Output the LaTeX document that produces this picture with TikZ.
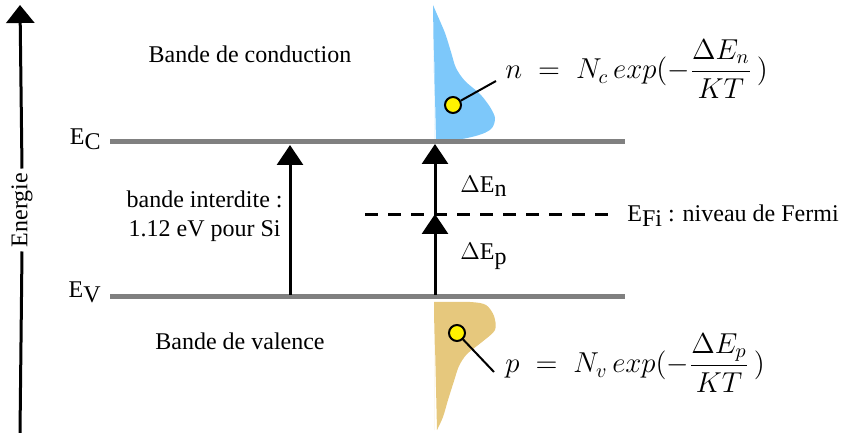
\documentclass[tikz,border=0pt]{standalone}
\usepackage{fontspec}
\setmainfont{Liberation Serif}
\usepackage{amsmath}
\usetikzlibrary{arrows.meta,positioning}
\definecolor{bandgray}{RGB}{128,128,128}
\definecolor{condblue}{RGB}{125,200,250}
\definecolor{valtan}{RGB}{230,200,125}
\newcommand{\Elev}[1]{E\raisebox{-0.45ex}{#1}}

\begin{document}
\begin{tikzpicture}[x=0.5pt,y=-0.5pt,
  band/.style={draw=bandgray,line width=2.5pt},
  fleche/.style={line width=1.5pt,-{Triangle[width=13pt,length=10pt]}},
  lbl/.style={font=\fontsize{12}{14}\selectfont,inner sep=1pt},
  formule/.style={font=\fontsize{14}{16}\selectfont,inner sep=1pt,anchor=west},
  point/.style={circle,draw=black,fill=yellow,line width=1pt,inner sep=0pt,minimum size=8pt}]
\useasboundingbox (0,0) rectangle (858,433);
% distributions
\fill[condblue] (435,142) -- (433,5) plot[smooth] coordinates {(433,5) (436,12) (445,33) (451,52) (456,68) (465,81) (480,94) (490,107) (495,118) (492,128) (482,134) (462,139) (436,141)} -- cycle;
\fill[valtan] (434,430) -- (434,302) plot[smooth] coordinates {(434,302) (470,302) (486,305) (494,316) (495,330) (482,342) (467,354) (459,366) (454,381) (448,400) (443,417) (437,430)} -- cycle;
% axe de l'energie
\draw (22,210) node[lbl,rotate=90,inner sep=2pt](energie){Energie};
\coordinate (axb) at (20,433);
\coordinate (axt) at (20,5);
\draw[line width=1.5pt] (axb) -- (energie.west);
\draw[line width=1.5pt,-{Triangle[width=14pt,length=9pt]}] (energie.east) -- (axt);
% niveaux
\coordinate (ecg) at (110,142); \coordinate (ecd) at (625,142);
\coordinate (evg) at (110,297); \coordinate (evd) at (625,297);
\coordinate (efg) at (365,215); \coordinate (efd) at (612,215);
\draw[band] (ecg) -- (ecd);
\draw[band] (evg) -- (evd);
\draw[line width=1.5pt,dash pattern=on 6.5pt off 5pt] (efg) -- (efd);
\draw
(103,145) node[lbl,anchor=base east](ec){\Elev{C}}
(103,298) node[lbl,anchor=base east](ev){\Elev{V}}
(625,222) node[lbl,anchor=base west](ef){\Elev{Fi} : niveau de Fermi}
(250,63) node[lbl,anchor=base](bc){Bande de conduction}
(240,350) node[lbl,anchor=base](bv){Bande de valence}
(285,207) node[lbl,anchor=base east](bi){bande interdite :}
(283,237) node[lbl,anchor=base east](gap){1.12 eV pour Si}
(458,192) node[lbl,anchor=base west](den){$\Delta$\Elev{n}}
(458,260) node[lbl,anchor=base west](dep){$\Delta$\Elev{p}};
% fleches
\coordinate (g0) at (290,295); \coordinate (g1) at (290,145);
\coordinate (d0) at (435,295); \coordinate (d1) at (435,214); \coordinate (d2) at (435,144);
\draw[fleche] (g0) -- (g1);
\draw[fleche] (d0) -- (d1);
\draw[fleche] (d1) -- (d2);
% densites
\draw (503,69) node[formule](fn){$n\;=\;N_c\,exp(-\dfrac{\Delta E_n}{KT}\,)$};
\draw (503,363) node[formule](fp){$p\;=\;N_v\,exp(-\dfrac{\Delta E_p}{KT}\,)$};
\node[point](pn) at (453,105){};
\node[point](pp) at (457,333){};
\coordinate (tn) at (496,81); \coordinate (tp) at (494,372);
\draw[line width=1pt] (pn) -- (tn);
\draw[line width=1pt] (pp) -- (tp);
\end{tikzpicture}
\end{document}
